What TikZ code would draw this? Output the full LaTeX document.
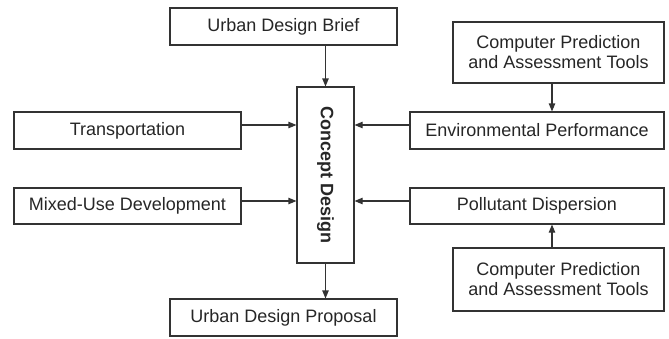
\documentclass[tikz,border=0pt]{standalone}
\usepackage{fontspec}
\setmainfont{Liberation Sans}
\usetikzlibrary{positioning, calc, arrows.meta}

\begin{document}
\begin{tikzpicture}
		[x=0.5pt, y=-0.5pt,
		box/.style={draw=black!80, line width=0.55pt, inner sep=0pt, align=center, text=black!85, font=\fontsize{9}{10}\selectfont},
		link/.style={draw=black!80, line width=0.55pt, -{Triangle[length=4pt, width=3.2pt]}}]
		\useasboundingbox (0,0) rectangle (669,338);
		\node[box, minimum width=113.5pt, minimum height=18.5pt] (brief) at (283.5,26.5) {Urban Design Brief};
		\node[box, font=\fontsize{9}{10}\selectfont\bfseries, minimum width=28.5pt, minimum height=88pt] (concept) at (325.5,175) {\rotatebox{-90}{Concept Design}};
		\node[box, minimum width=113.5pt, minimum height=18.5pt] (trans) at (127.5,130.5) {Transportation};
		\node[box, minimum width=113.5pt, minimum height=18pt] (mixed) at (127.5,206) {Mixed-Use Development};
		\node[box, minimum width=127pt, minimum height=18.5pt] (env) at (537,130.5) {Environmental Performance};
		\node[box, minimum width=127pt, minimum height=18pt] (poll) at (537,206) {Pollutant Dispersion};
		\node[box, minimum width=105.5pt, minimum height=30.5pt] (cpa) at (558.5,52.5) {Computer Prediction\\and Assessment Tools};
		\node[box, minimum width=105.5pt, minimum height=31.5pt] (cpb) at (558.5,279.5) {Computer Prediction\\and Assessment Tools};
		\node[box, minimum width=113.5pt, minimum height=18.5pt] (proposal) at (283.5,317.5) {Urban Design Proposal};

		\draw[link] (brief.south -| concept.north) -- (concept.north);
		\draw[link] ([yshift=2.75pt]trans.east) -- ([yshift=2.75pt]trans.east -| concept.west);
		\draw[link] ([yshift=2.5pt]mixed.east) -- ([yshift=2.5pt]mixed.east -| concept.west);
		\draw[link] ([yshift=2.75pt]env.west) -- ([yshift=2.75pt]env.west -| concept.east);
		\draw[link] ([yshift=2.5pt]poll.west) -- ([yshift=2.5pt]poll.west -| concept.east);
		\draw[link] ([xshift=-3.25pt]cpa.south) -- ([xshift=-3.25pt]cpa.south |- env.north);
		\draw[link] ([xshift=-3.25pt]cpb.north) -- ([xshift=-3.25pt]cpb.north |- poll.south);
		\draw[link] (concept.south) -- (concept.south |- proposal.north);
	\end{tikzpicture}
\end{document}
